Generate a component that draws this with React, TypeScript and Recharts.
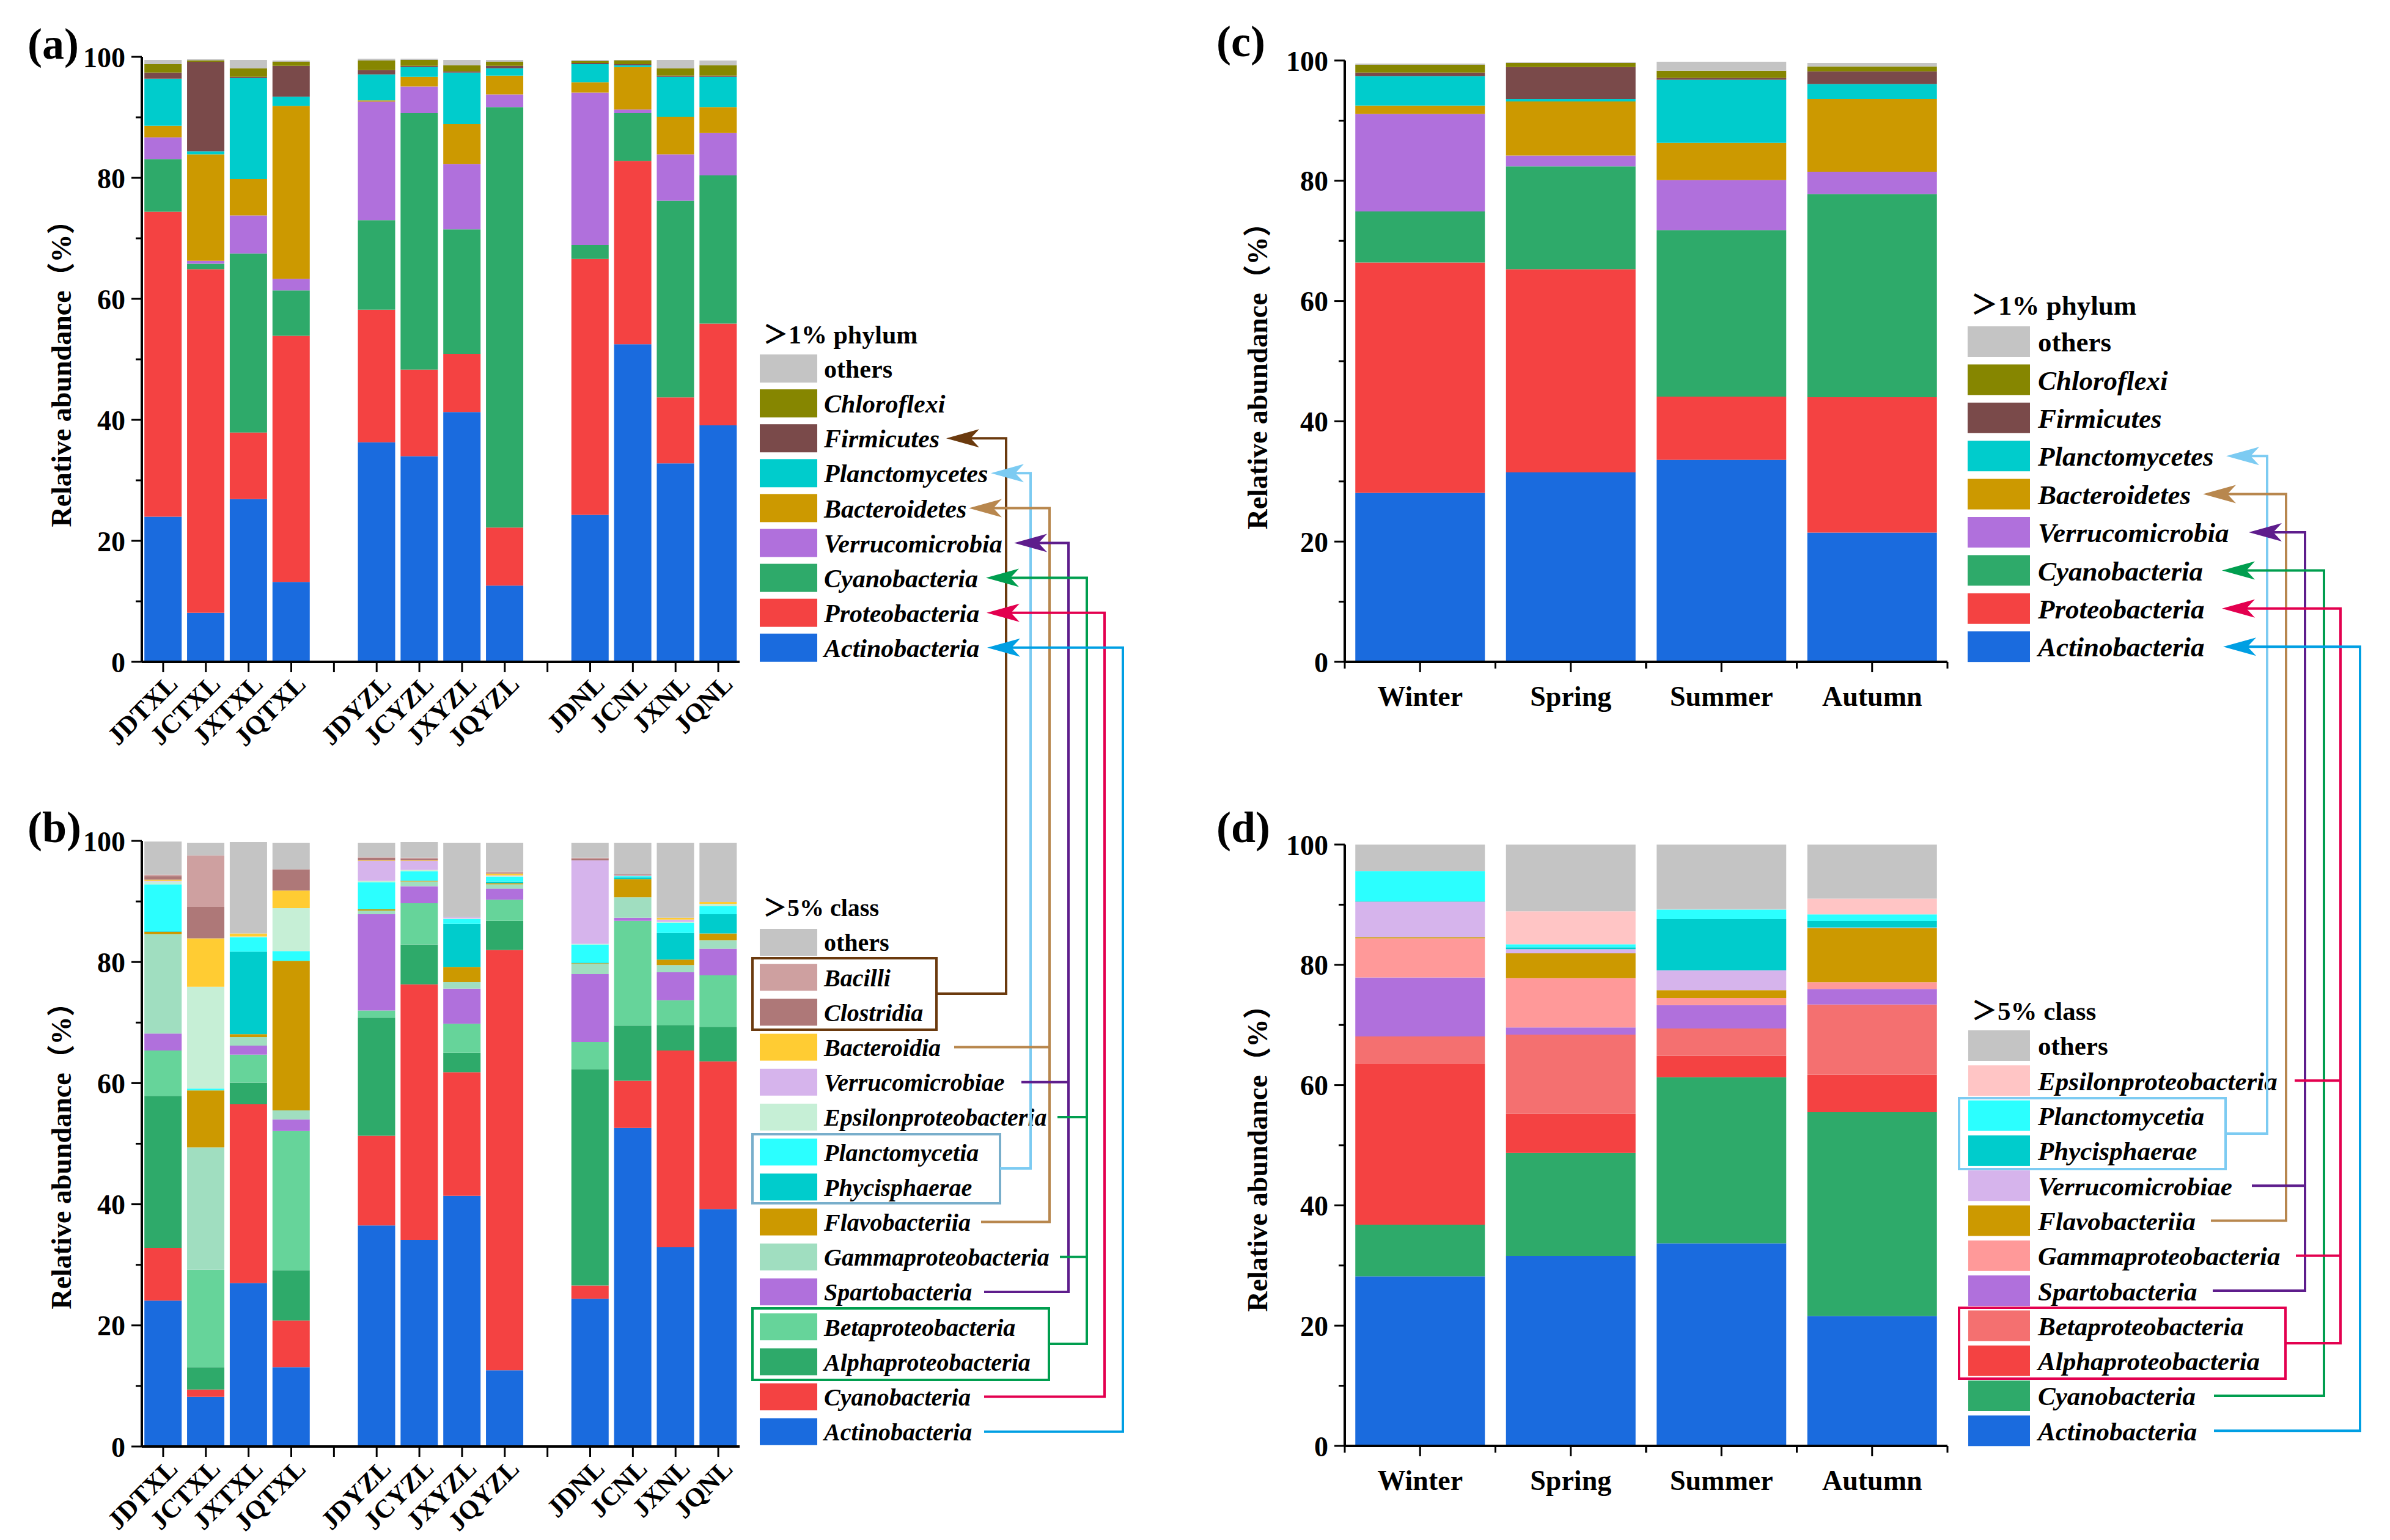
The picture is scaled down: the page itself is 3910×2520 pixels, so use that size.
import React from "react";
import { BarChart, Bar, XAxis, YAxis } from "recharts";

const SERIF = '"Liberation Serif", "Times New Roman", "Noto Sans CJK SC", serif';

// sampling sites (a, b) and seasons (c, d)
const sites = ["JDTXL", "JCTXL", "JXTXL", "JQTXL", "JDYZL", "JCYZL", "JXYZL", "JQYZL", "JDNL", "JCNL", "JXNL", "JQNL"];
const seasons = ["Winter", "Spring", "Summer", "Autumn"];
const yTicks = [0, 10, 20, 30, 40, 50, 60, 70, 80, 90, 100];

// (a) phylum, by site
const aActinobacteria = [24.0, 8.1, 26.9, 13.2, 36.3, 34.0, 41.3, 12.6, 24.3, 52.5, 32.8, 39.1];
const aProteobacteria = [50.4, 56.8, 11.0, 40.7, 21.9, 14.3, 9.6, 9.6, 42.3, 30.3, 10.9, 16.8];
const aCyanobacteria = [8.7, 0.9, 29.6, 7.5, 14.8, 42.4, 20.6, 69.5, 2.3, 7.9, 32.5, 24.5];
const aVerrucomicrobia = [3.6, 0.5, 6.3, 1.9, 19.6, 4.4, 10.8, 2.1, 25.2, 0.6, 7.7, 7.0];
const aBacteroidetes = [1.9, 17.6, 6.0, 28.6, 0.2, 1.6, 6.6, 3.1, 1.7, 7.0, 6.2, 4.3];
const aPlanctomycetes = [7.8, 0.5, 16.7, 1.5, 4.3, 1.6, 8.5, 1.2, 3.0, 0.3, 6.6, 5.0];
const aFirmicutes = [1.0, 14.8, 0.2, 5.1, 0.7, 0.2, 0.2, 0.4, 0.2, 0.2, 0.2, 0.2];
const aChloroflexi = [1.4, 0.2, 1.4, 0.7, 1.6, 1.0, 1.0, 0.7, 0.3, 0.6, 1.2, 1.7];
const aOthers = [0.7, 0.2, 1.4, 0.2, 0.3, 0.2, 0.9, 0.3, 0.2, 0.1, 1.4, 0.8];

// (b) class, by site
const bActinobacteria = [24.1, 8.2, 27.0, 13.1, 36.5, 34.1, 41.4, 12.6, 24.4, 52.6, 32.9, 39.2];
const bCyanobacteria = [8.7, 1.2, 29.5, 7.7, 14.8, 42.2, 20.4, 69.4, 2.2, 7.8, 32.5, 24.4];
const bAlphaproteobacteria = [25.1, 3.7, 3.6, 8.3, 19.5, 6.6, 3.2, 4.8, 35.7, 9.1, 4.2, 5.7];
const bBetaproteobacteria = [7.5, 16.1, 4.6, 23.0, 1.2, 6.8, 4.8, 3.5, 4.5, 17.3, 4.1, 8.5];
const bSpartobacteria = [2.8, 0, 1.5, 1.9, 15.9, 2.8, 5.8, 1.8, 11.2, 0.5, 4.6, 4.4];
const bGammaproteobacteria = [16.4, 20.2, 1.4, 1.5, 0.6, 0.8, 1.1, 0.7, 1.7, 3.4, 1.2, 1.4];
const bFlavobacteriia = [0.4, 9.4, 0.5, 24.7, 0.2, 0.1, 2.5, 0.2, 0.1, 3.0, 0.9, 1.1];
const bPhycisphaerae = [0.1, 0, 13.6, 0, 0, 0.1, 7.1, 0.3, 0.1, 0.3, 4.4, 3.2];
const bPlanctomycetia = [7.7, 0.3, 2.4, 1.6, 4.5, 1.5, 0.8, 0.8, 3.0, 0.2, 1.7, 1.3];
const bEpsilonproteobacteria = [0.5, 16.8, 0.1, 7.1, 0.2, 0.2, 0.1, 0.1, 0.1, 0, 0.1, 0.4];
const bVerrucomicrobiae = [0.1, 0, 0, 0, 3.3, 1.5, 0.2, 0.1, 13.8, 0.1, 0.4, 0];
const bBacteroidia = [0.2, 8.0, 0.5, 2.9, 0.1, 0.1, 0, 0.3, 0, 0, 0.3, 0.3];
const bClostridia = [0.6, 5.2, 0, 3.5, 0.4, 0.3, 0, 0.2, 0.3, 0.2, 0, 0];
const bBacilli = [0.2, 8.5, 0, 0, 0.1, 0.1, 0, 0.1, 0.1, 0, 0, 0];
const bOthers = [5.5, 2.1, 15.1, 4.4, 2.4, 2.6, 12.3, 4.8, 2.5, 5.2, 12.4, 9.8];

// (c) phylum, by season
const cActinobacteria = [28.1, 31.5, 33.6, 21.5];
const cProteobacteria = [38.3, 33.8, 10.5, 22.5];
const cCyanobacteria = [8.5, 17.1, 27.7, 33.8];
const cVerrucomicrobia = [16.2, 1.8, 8.3, 3.7];
const cBacteroidetes = [1.4, 9.0, 6.2, 12.1];
const cPlanctomycetes = [4.9, 0.4, 10.5, 2.5];
const cFirmicutes = [0.6, 5.3, 0.3, 2.1];
const cChloroflexi = [1.3, 0.7, 1.2, 0.8];
const cOthers = [0.2, 0.1, 1.5, 0.6];

// (d) class, by season
const dActinobacteria = [28.2, 31.6, 33.7, 21.6];
const dCyanobacteria = [8.6, 17.1, 27.6, 33.9];
const dAlphaproteobacteria = [26.8, 6.5, 3.6, 6.2];
const dBetaproteobacteria = [4.5, 13.2, 4.5, 11.7];
const dSpartobacteria = [9.8, 1.2, 3.9, 2.6];
const dGammaproteobacteria = [6.5, 8.2, 1.2, 1.1];
const dFlavobacteriia = [0.2, 4.1, 1.3, 9.0];
const dVerrucomicrobiae = [5.9, 0.7, 3.3, 0.1];
const dPhycisphaerae = [0.1, 0.3, 8.5, 1.1];
const dPlanctomycetia = [5.0, 0.5, 1.6, 1.1];
const dEpsilonproteobacteria = [0, 5.5, 0.1, 2.6];
const dOthers = [4.4, 11.1, 10.7, 9.0];

type Series = { key: string; color: string; values: number[] };

// stacking order, bottom to top
const phylumSites: Series[] = [
  { key: "Actinobacteria", color: "#1A6BDE", values: aActinobacteria },
  { key: "Proteobacteria", color: "#F44242", values: aProteobacteria },
  { key: "Cyanobacteria", color: "#2EAA6A", values: aCyanobacteria },
  { key: "Verrucomicrobia", color: "#B070DC", values: aVerrucomicrobia },
  { key: "Bacteroidetes", color: "#CC9900", values: aBacteroidetes },
  { key: "Planctomycetes", color: "#00CCCC", values: aPlanctomycetes },
  { key: "Firmicutes", color: "#7A4A4A", values: aFirmicutes },
  { key: "Chloroflexi", color: "#868600", values: aChloroflexi },
  { key: "others", color: "#C4C4C4", values: aOthers },
];

const classSites: Series[] = [
  { key: "Actinobacteria", color: "#1A6BDE", values: bActinobacteria },
  { key: "Cyanobacteria", color: "#F44242", values: bCyanobacteria },
  { key: "Alphaproteobacteria", color: "#2EAA6A", values: bAlphaproteobacteria },
  { key: "Betaproteobacteria", color: "#66D49A", values: bBetaproteobacteria },
  { key: "Spartobacteria", color: "#B070DC", values: bSpartobacteria },
  { key: "Gammaproteobacteria", color: "#A0DEC0", values: bGammaproteobacteria },
  { key: "Flavobacteriia", color: "#CC9900", values: bFlavobacteriia },
  { key: "Phycisphaerae", color: "#00CCCC", values: bPhycisphaerae },
  { key: "Planctomycetia", color: "#2BFFFF", values: bPlanctomycetia },
  { key: "Epsilonproteobacteria", color: "#C6EFD6", values: bEpsilonproteobacteria },
  { key: "Verrucomicrobiae", color: "#D6B4EC", values: bVerrucomicrobiae },
  { key: "Bacteroidia", color: "#FFCC33", values: bBacteroidia },
  { key: "Clostridia", color: "#AE7878", values: bClostridia },
  { key: "Bacilli", color: "#CEA0A0", values: bBacilli },
  { key: "others", color: "#C4C4C4", values: bOthers },
];

const phylumSeasons: Series[] = [
  { key: "Actinobacteria", color: "#1A6BDE", values: cActinobacteria },
  { key: "Proteobacteria", color: "#F44242", values: cProteobacteria },
  { key: "Cyanobacteria", color: "#2EAA6A", values: cCyanobacteria },
  { key: "Verrucomicrobia", color: "#B070DC", values: cVerrucomicrobia },
  { key: "Bacteroidetes", color: "#CC9900", values: cBacteroidetes },
  { key: "Planctomycetes", color: "#00CCCC", values: cPlanctomycetes },
  { key: "Firmicutes", color: "#7A4A4A", values: cFirmicutes },
  { key: "Chloroflexi", color: "#868600", values: cChloroflexi },
  { key: "others", color: "#C4C4C4", values: cOthers },
];

const classSeasons: Series[] = [
  { key: "Actinobacteria", color: "#1A6BDE", values: dActinobacteria },
  { key: "Cyanobacteria", color: "#2EAA6A", values: dCyanobacteria },
  { key: "Alphaproteobacteria", color: "#F44242", values: dAlphaproteobacteria },
  { key: "Betaproteobacteria", color: "#F47070", values: dBetaproteobacteria },
  { key: "Spartobacteria", color: "#B070DC", values: dSpartobacteria },
  { key: "Gammaproteobacteria", color: "#FF9999", values: dGammaproteobacteria },
  { key: "Flavobacteriia", color: "#CC9900", values: dFlavobacteriia },
  { key: "Verrucomicrobiae", color: "#D6B4EC", values: dVerrucomicrobiae },
  { key: "Phycisphaerae", color: "#00CCCC", values: dPhycisphaerae },
  { key: "Planctomycetia", color: "#2BFFFF", values: dPlanctomycetia },
  { key: "Epsilonproteobacteria", color: "#FFC5C5", values: dEpsilonproteobacteria },
  { key: "others", color: "#C4C4C4", values: dOthers },
];

function buildRows(names: string[], series: Series[]) {
  return names.map((name, i) => {
    const row: any = { name };
    series.forEach((s) => (row[s.key] = s.values[i]));
    return row;
  });
}

// two empty slots separate the three sampling areas
function siteRows(series: Series[]) {
  const rows = buildRows(sites, series);
  return [...rows.slice(0, 4), { name: "gap1" }, ...rows.slice(4, 8), { name: "gap2" }, ...rows.slice(8)];
}

const TICK = 17;
const TICK_GAP = 10;

const ValueTick = (props: any) => {
  const { x, y, payload } = props;
  const axisX = x + TICK + TICK_GAP;
  const major = payload.value % 20 === 0;
  return (
    <g>
      <line x1={axisX} x2={axisX - (major ? TICK : 10)} y1={y} y2={y} stroke="#000" strokeWidth={3} />
      {major && (
        <text x={x} y={y} dy="0.36em" textAnchor="end" fontFamily={SERIF} fontWeight="bold" fontSize={46} fill="#000">
          {payload.value}
        </text>
      )}
    </g>
  );
};

const SiteTick = (props: any) => {
  const { x, y, payload } = props;
  if (String(payload.value).startsWith("gap")) return <g />;
  const ax = x + 26;
  const ay = y + 14;
  return (
    <text x={ax} y={ay} transform={`rotate(-45 ${ax} ${ay})`} textAnchor="end" fontFamily={SERIF} fontWeight="bold" fontSize={43} fill="#000">
      {payload.value}
    </text>
  );
};

const SeasonTick = (props: any) => {
  const { x, y, payload, slot } = props;
  const axisY = y - TICK - 8;
  return (
    <g>
      <line x1={x - slot / 2} x2={x - slot / 2} y1={axisY} y2={axisY + 11} stroke="#000" strokeWidth={3} />
      <line x1={x + slot / 2} x2={x + slot / 2} y1={axisY} y2={axisY + 11} stroke="#000" strokeWidth={3} />
      <text x={x} y={axisY + 72} textAnchor="middle" fontFamily={SERIF} fontWeight="bold" fontSize={46} fill="#000">
        {payload.value}
      </text>
    </g>
  );
};

type Plot = { x0: number; x1: number; y0: number; y1: number };

function Panel(props: { left: number; top: number; width: number; height: number; plot: Plot; rows: any[]; series: Series[]; bySite: boolean }) {
  const { left, top, width, height, plot, rows, series, bySite } = props;
  const YW = 160;
  const XH = 140;
  const margin = {
    left: plot.x0 - left - YW,
    right: left + width - plot.x1,
    top: plot.y0 - top,
    bottom: top + height - plot.y1 - XH,
  };
  const slot = (plot.x1 - plot.x0) / rows.length;
  const axisLine = { stroke: "#000", strokeWidth: 4 };
  return (
    <div style={{ position: "absolute", left, top }}>
      <BarChart width={width} height={height} data={rows} margin={margin} barCategoryGap={bySite ? "6%" : "7%"}>
        <XAxis
          xAxisId="main"
          dataKey="name"
          height={XH}
          interval={0}
          tickSize={TICK}
          tickMargin={8}
          axisLine={axisLine}
          tickLine={{ stroke: "#000", strokeWidth: 3 }}
          tick={bySite ? (p: any) => <SiteTick {...p} /> : (p: any) => <SeasonTick {...p} slot={slot} />}
        />
        <XAxis xAxisId="frame" orientation="top" height={0} tick={false} tickLine={false} axisLine={axisLine} />
        <YAxis
          yAxisId="main"
          width={YW}
          domain={[0, 100]}
          ticks={yTicks}
          interval={0}
          allowDataOverflow
          tickSize={TICK}
          tickMargin={TICK_GAP}
          tickLine={false}
          axisLine={axisLine}
          tick={(p: any) => <ValueTick {...p} />}
        />
        <YAxis yAxisId="frame" orientation="right" width={0} tick={false} tickLine={false} axisLine={axisLine} />
        {series.map((s) => (
          <Bar key={s.key} dataKey={s.key} xAxisId="main" yAxisId="main" stackId="stack" fill={s.color} isAnimationActive={false} />
        ))}
      </BarChart>
    </div>
  );
}

type LegendSpec = { title: string; x: number; titleY: number; firstY: number; step: number; sw: number; sh: number; textX: number; fontSize: number; series: Series[] };

function LegendBlock({ spec }: { spec: LegendSpec }) {
  const items = [...spec.series].reverse();
  return (
    <g fontFamily={SERIF} fontWeight="bold" fill="#000">
      <text x={spec.x + 5} y={spec.titleY} dy="0.36em" fontSize={spec.fontSize}>
        {spec.title}
      </text>
      {items.map((s, i) => {
        const cy = spec.firstY + i * spec.step;
        return (
          <g key={s.key}>
            <rect x={spec.x} y={cy - spec.sh / 2} width={spec.sw} height={spec.sh} fill={s.color} />
            <text x={spec.textX} y={cy} dy="0.36em" fontSize={spec.fontSize} fontStyle={s.key === "others" ? "normal" : "italic"}>
              {s.key}
            </text>
          </g>
        );
      })}
    </g>
  );
}

const legendA: LegendSpec = { title: "＞1% phylum", x: 1243, titleY: 547, firstY: 603, step: 57.1, sw: 94, sh: 46, textX: 1348, fontSize: 42, series: phylumSites };
const legendB: LegendSpec = { title: "＞5% class", x: 1243, titleY: 1485, firstY: 1542, step: 57.2, sw: 94, sh: 44, textX: 1348, fontSize: 40, series: classSites };
const legendC: LegendSpec = { title: "＞1% phylum", x: 3219, titleY: 499, firstY: 559, step: 62.4, sw: 102, sh: 50, textX: 3334, fontSize: 45, series: phylumSeasons };
const legendD: LegendSpec = { title: "＞5% class", x: 3220, titleY: 1654, firstY: 1711, step: 57.3, sw: 101, sh: 50, textX: 3334, fontSize: 43, series: classSeasons };

const rowY = (spec: LegendSpec, i: number) => spec.firstY + i * spec.step;

const BROWN = "#6B3A0E";
const SKY = "#7CCBF2";
const SKY_DULL = "#78AECB";
const TAN = "#B8874E";
const PURPLE = "#5E1D8C";
const GREEN = "#009E4F";
const CRIMSON = "#E3004F";
const BLUE = "#009FE3";

const Arrow = ({ x, y, color }: { x: number; y: number; color: string }) => (
  <path d={`M${x},${y} L${x + 54},${y - 15} L${x + 40},${y} L${x + 54},${y + 15} Z`} fill={color} />
);

const Wire = ({ d, color }: { d: string; color: string }) => <path d={d} fill="none" stroke={color} strokeWidth={4} />;

function Connectors() {
  const a = (i: number) => rowY(legendA, i);
  const b = (i: number) => rowY(legendB, i);
  const c = (i: number) => rowY(legendC, i);
  const d = (i: number) => rowY(legendD, i);
  return (
    <g>
      {/* (a) -> (b) */}
      <rect x={1231} y={1568} width={301} height={117} fill="none" stroke={BROWN} strokeWidth={4} />
      <rect x={1231} y={1856} width={405} height={113} fill="none" stroke={SKY_DULL} strokeWidth={4} />
      <rect x={1231} y={2141} width={485} height={117} fill="none" stroke={GREEN} strokeWidth={4} />

      <Wire color={BROWN} d={`M1588,${a(2)} H1646 V1626 H1532`} />
      <Arrow x={1548} y={a(2)} color={BROWN} />
      <Wire color={SKY} d={`M1661,${a(3)} H1686 V1912 H1636`} />
      <Arrow x={1621} y={a(3)} color={SKY} />
      <Wire color={TAN} d={`M1625,${a(4)} H1717 V${b(8)} H1605`} />
      <Wire color={TAN} d={`M1561,${b(3)} H1717`} />
      <Arrow x={1585} y={a(4)} color={TAN} />
      <Wire color={PURPLE} d={`M1699,${a(5)} H1748 V${b(10)} H1610`} />
      <Wire color={PURPLE} d={`M1671,${b(4)} H1748`} />
      <Arrow x={1659} y={a(5)} color={PURPLE} />
      <Wire color={GREEN} d={`M1653,${a(6)} H1778 V2199 H1716`} />
      <Wire color={GREEN} d={`M1730,${b(5)} H1778`} />
      <Wire color={GREEN} d={`M1734,${b(9)} H1778`} />
      <Arrow x={1613} y={a(6)} color={GREEN} />
      <Wire color={CRIMSON} d={`M1654,${a(7)} H1807 V${b(13)} H1610`} />
      <Arrow x={1614} y={a(7)} color={CRIMSON} />
      <Wire color={BLUE} d={`M1655,${a(8)} H1837 V${b(14)} H1610`} />
      <Arrow x={1615} y={a(8)} color={BLUE} />

      {/* (c) -> (d) */}
      <rect x={3205} y={1797} width={436} height={116} fill="none" stroke={SKY} strokeWidth={4} />
      <rect x={3205} y={2140} width={534} height={116} fill="none" stroke={CRIMSON} strokeWidth={4} />

      <Wire color={SKY} d={`M3682,${c(3)} H3709 V1855 H3641`} />
      <Arrow x={3642} y={c(3)} color={SKY} />
      <Wire color={TAN} d={`M3644,${c(4)} H3740 V${d(5)} H3617`} />
      <Arrow x={3604} y={c(4)} color={TAN} />
      <Wire color={PURPLE} d={`M3719,${c(5)} H3771 V${d(7)} H3620`} />
      <Wire color={PURPLE} d={`M3684,${d(4)} H3771`} />
      <Arrow x={3679} y={c(5)} color={PURPLE} />
      <Wire color={GREEN} d={`M3675,${c(6)} H3802 V${d(10)} H3622`} />
      <Arrow x={3635} y={c(6)} color={GREEN} />
      <Wire color={CRIMSON} d={`M3675,${c(7)} H3829 V2198 H3739`} />
      <Wire color={CRIMSON} d={`M3754,${d(1)} H3829`} />
      <Wire color={CRIMSON} d={`M3756,${d(6)} H3829`} />
      <Arrow x={3635} y={c(7)} color={CRIMSON} />
      <Wire color={BLUE} d={`M3677,${c(8)} H3861 V${d(11)} H3622`} />
      <Arrow x={3637} y={c(8)} color={BLUE} />
    </g>
  );
}

const YTitle = ({ cx, cy }: { cx: number; cy: number }) => (
  <text transform={`translate(${cx} ${cy}) rotate(-90)`} textAnchor="middle" dy="0.36em" fontFamily={SERIF} fontWeight="bold" fontSize={46} fill="#000">
    Relative abundance（%）
  </text>
);

const PanelTag = ({ x, y, label }: { x: number; y: number; label: string }) => (
  <text x={x} y={y} fontFamily={SERIF} fontWeight="bold" fontSize={72} fill="#000">
    {label}
  </text>
);

export default function App() {
  return (
    <div style={{ position: "absolute", left: 0, top: 0, width: 3910, height: 2520, background: "#fff", overflow: "hidden" }}>
      <Panel left={0} top={0} width={1240} height={1270} plot={{ x0: 232, x1: 1210, y0: 93, y1: 1083 }} rows={siteRows(phylumSites)} series={phylumSites} bySite />
      <Panel left={0} top={1290} width={1240} height={1230} plot={{ x0: 232, x1: 1210, y0: 1376, y1: 2367 }} rows={siteRows(classSites)} series={classSites} bySite />
      <Panel left={1960} top={0} width={1260} height={1270} plot={{ x0: 2200, x1: 3186, y0: 99, y1: 1083 }} rows={buildRows(seasons, phylumSeasons)} series={phylumSeasons} bySite={false} />
      <Panel left={1960} top={1290} width={1260} height={1230} plot={{ x0: 2200, x1: 3186, y0: 1382, y1: 2366 }} rows={buildRows(seasons, classSeasons)} series={classSeasons} bySite={false} />
      <svg width={3910} height={2520} style={{ position: "absolute", left: 0, top: 0, pointerEvents: "none" }}>
        <PanelTag x={45} y={96} label="(a)" />
        <PanelTag x={45} y={1378} label="(b)" />
        <PanelTag x={1990} y={92} label="(c)" />
        <PanelTag x={1990} y={1378} label="(d)" />
        <YTitle cx={99} cy={600} />
        <YTitle cx={99} cy={1880} />
        <YTitle cx={2056} cy={604} />
        <YTitle cx={2056} cy={1884} />
        <LegendBlock spec={legendA} />
        <LegendBlock spec={legendB} />
        <LegendBlock spec={legendC} />
        <LegendBlock spec={legendD} />
        <Connectors />
      </svg>
    </div>
  );
}
